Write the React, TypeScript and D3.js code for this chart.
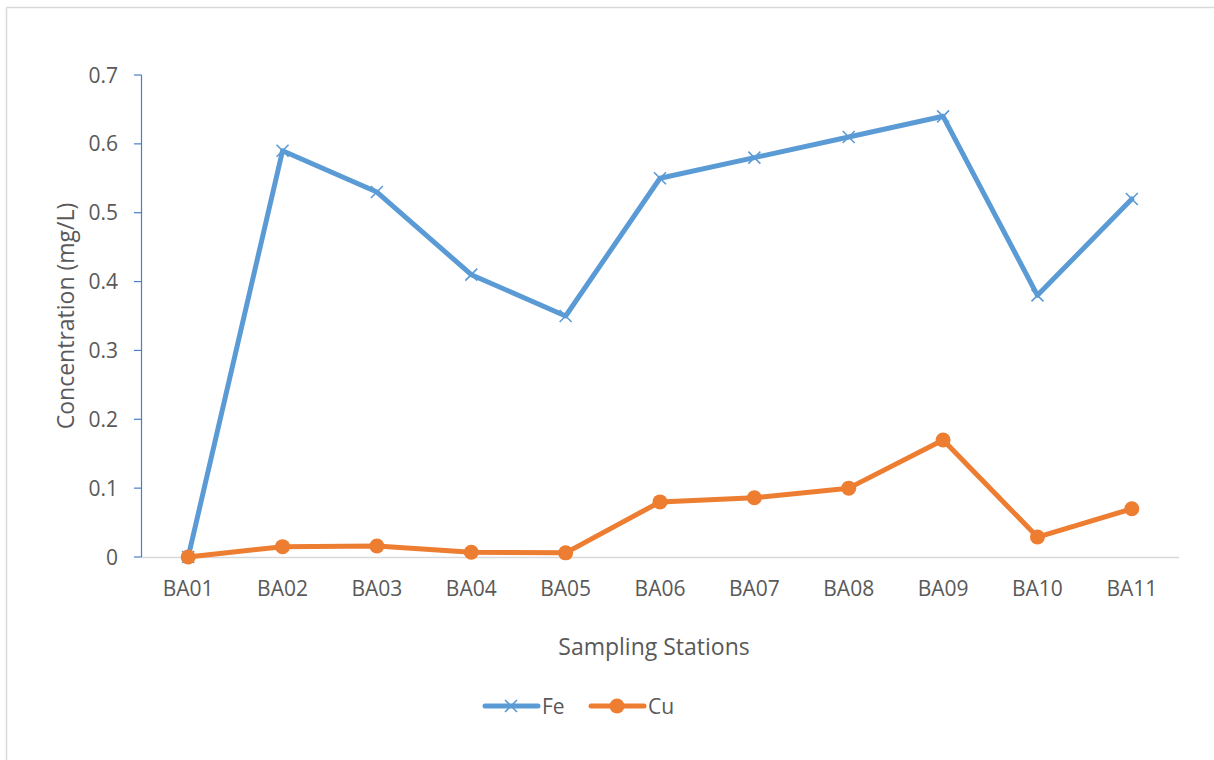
import React from "react";
import * as d3 from "d3";

const categories = ["BA01", "BA02", "BA03", "BA04", "BA05", "BA06", "BA07", "BA08", "BA09", "BA10", "BA11"];
const feValues = [0, 0.59, 0.53, 0.41, 0.35, 0.55, 0.58, 0.61, 0.64, 0.38, 0.52];
const cuValues = [0, 0.015, 0.016, 0.007, 0.006, 0.08, 0.086, 0.1, 0.17, 0.029, 0.07];
const yTicks = [0, 0.1, 0.2, 0.3, 0.4, 0.5, 0.6, 0.7];

const W = 1214;
const H = 760;
const FONT = "'Open Sans', Lato, sans-serif";
const TEXT = "#595959";
const FE = "#5B9BD5";
const CU = "#ED7D31";

export default function App() {
  const left = 141;
  const right = 1179;
  const top = 75;
  const bottom = 557;
  const x = d3.scaleBand<string>().domain(categories).range([left, right]);
  const y = d3.scaleLinear().domain([0, 0.7]).range([bottom, top]);
  const cx = (c: string) => (x(c) ?? 0) + x.bandwidth() / 2;
  const line = d3
    .line<number>()
    .x((_, i) => cx(categories[i]))
    .y((d) => y(d));

  const xMark = (px: number, py: number, s: number, key: string) => (
    <path
      key={key}
      d={`M${px - s},${py - s}L${px + s},${py + s}M${px - s},${py + s}L${px + s},${py - s}`}
      stroke={FE}
      strokeWidth={1.6}
      fill="none"
    />
  );

  return (
    <svg
      width={W}
      height={H}
      style={{ position: "absolute", left: 0, top: 0, background: "#fff" }}
      fontFamily={FONT}
    >
      <rect x={0} y={0} width={W} height={H} fill="#fff" />
      <line x1={6.5} y1={7.5} x2={W} y2={7.5} stroke="#D9D9D9" strokeWidth={1.5} />
      <line x1={6.5} y1={7.5} x2={6.5} y2={H} stroke="#D9D9D9" strokeWidth={1.5} />

      {/* x axis */}
      <line x1={left} y1={bottom + 0.5} x2={right} y2={bottom + 0.5} stroke="#D9D9D9" strokeWidth={1.5} />
      {categories.map((c) => (
        <text key={c} x={cx(c)} y={596} textAnchor="middle" fontSize={21} fill={TEXT}>
          {c}
        </text>
      ))}

      {/* y axis */}
      <line x1={left + 0.5} y1={top} x2={left + 0.5} y2={bottom} stroke="#4A7EC5" strokeWidth={1.2} />
      {yTicks.map((t) => (
        <g key={t}>
          <line x1={left - 7} x2={left + 0.5} y1={y(t)} y2={y(t)} stroke="#4A7EC5" strokeWidth={1.2} />
          <text x={118} y={y(t) + 7.5} textAnchor="end" fontSize={21} fill={TEXT}>
            {t === 0 ? "0" : t.toFixed(1)}
          </text>
        </g>
      ))}

      <text
        transform={`translate(74,${(top + bottom) / 2}) rotate(-90)`}
        textAnchor="middle"
        fontSize={23}
        fill={TEXT}
      >
        Concentration (mg/L)
      </text>
      <text x={654} y={655} textAnchor="middle" fontSize={23} fill={TEXT}>
        Sampling Stations
      </text>

      {/* Fe series */}
      <path d={line(feValues) ?? ""} fill="none" stroke={FE} strokeWidth={5} strokeLinejoin="round" strokeLinecap="round" />
      {feValues.map((v, i) => xMark(cx(categories[i]), y(v), 6, "fe" + i))}

      {/* Cu series */}
      <path d={line(cuValues) ?? ""} fill="none" stroke={CU} strokeWidth={5} strokeLinejoin="round" strokeLinecap="round" />
      {cuValues.map((v, i) => (
        <circle key={"cu" + i} cx={cx(categories[i])} cy={y(v)} r={7.5} fill={CU} />
      ))}

      {/* legend */}
      <line x1={485} x2={538} y1={706} y2={706} stroke={FE} strokeWidth={5} strokeLinecap="round" />
      {xMark(511, 706, 6, "legfe")}
      <text x={542} y={714} fontSize={21} fill={TEXT}>Fe</text>
      <line x1={591} x2={644} y1={706} y2={706} stroke={CU} strokeWidth={5} strokeLinecap="round" />
      <circle cx={617} cy={706} r={7.5} fill={CU} />
      <text x={648} y={714} fontSize={21} fill={TEXT}>Cu</text>
    </svg>
  );
}
